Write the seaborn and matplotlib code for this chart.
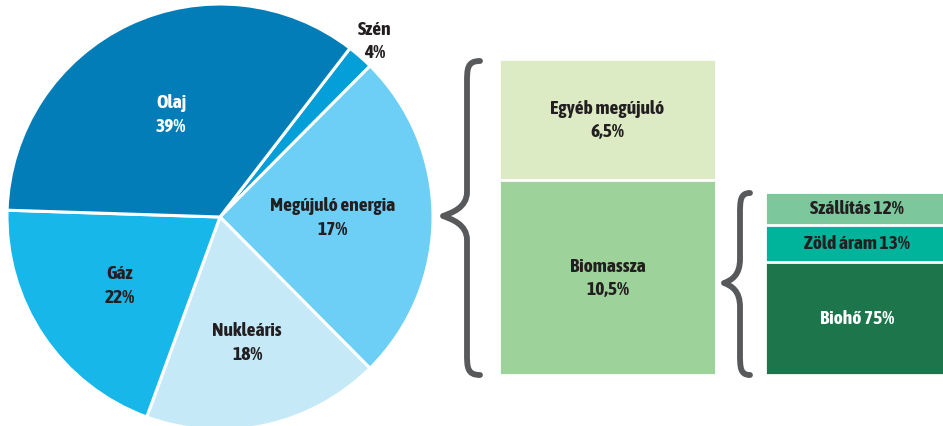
import numpy as np
import seaborn as sns
import matplotlib.pyplot as plt
from matplotlib.path import Path
from matplotlib.patches import PathPatch

# pie: energy mix, clockwise from the top right
pie_names = ["Szén", "Megújuló energia", "Nukleáris", "Gáz", "Olaj"]
pie_pct = ["4%", "17%", "18%", "22%", "39%"]
# slice sizes as they are drawn in the source (not proportional to the labels)
pie_drawn = [2.0, 25.1, 18.0, 19.9, 34.9]
pie_colors = ["#049fd9", "#6dcff5", "#c6e9f8", "#17b7ea", "#027db8"]

# renewables split (bottom to top)
ren_names = ["Biomassza", "Egyéb megújuló"]
ren_pct = ["10,5%", "6,5%"]
ren_values = [10.5, 6.5]
ren_colors = ["#9dd29b", "#dcebc4"]

# biomass split (bottom to top), heights as drawn
bio_names = ["Biohő", "Zöld áram", "Szállítás"]
bio_pct = ["75%", "13%", "12%"]
bio_drawn = [62, 20, 18]
bio_colors = ["#1c754b", "#00b49b", "#7cc89c"]

dark = "#231f20"
grey = "#58595b"

sns.set_theme(style="white")
plt.rcParams["font.family"] = ["Asap Condensed", "DejaVu Sans"]
plt.rcParams["font.stretch"] = "condensed"
font = dict(fontsize=14, fontweight="bold", linespacing=1.38)

W, H = 943, 427
fig = plt.figure(figsize=(W / 100, H / 100), dpi=100)

# ---- pie
ax = fig.add_axes([0, 0, 1, 1])
wedges, _ = ax.pie(pie_drawn, colors=pie_colors, startangle=52.4, counterclock=False,
                   wedgeprops=dict(edgecolor="white", linewidth=2.2))
R = 213.0
cx, cy = 220, H - 218
ax.set_xlim(-cx / R, (W - cx) / R)
ax.set_ylim(-cy / R, (H - cy) / R)
ax.set_aspect("equal")
ax.axis("off")

label_r = [1.1, 0.53, 0.6, 0.57, 0.535]
for w, name, pct, r in zip(wedges, pie_names, pie_pct, label_r):
    a = np.deg2rad((w.theta1 + w.theta2) / 2)
    col = "white" if name == "Olaj" else dark
    ax.text(r * np.cos(a), r * np.sin(a), name + "\n" + pct, ha="center", va="center",
            color=col, **font)


def stacked_box(ax, names, pct, values, colors, sep, fs):
    tops = np.cumsum(values)
    # tallest bar first, then the shorter ones over it
    for top, c in zip(tops[::-1], colors[::-1]):
        sns.barplot(x=["a"], y=[top], color=c, width=1, saturation=1,
                    edgecolor="white", linewidth=2, ax=ax)
    bottoms = tops - np.array(values)
    for n, p, b, v, c in zip(names, pct, bottoms, values, colors):
        col = "white" if c == "#1c754b" else dark
        ax.text(0, b + v / 2, n + sep + p, ha="center", va="center", color=col,
                fontsize=fs, fontweight="bold", linespacing=1.38)
    ax.set_xlim(-0.5, 0.5)
    ax.set_ylim(0, tops[-1])
    ax.axis("off")


ax_ren = fig.add_axes([499 / W, (H - 376) / H, 217 / W, 316 / H])
stacked_box(ax_ren, ren_names, ren_pct, ren_values, ren_colors, "\n", 14)

ax_bio = fig.add_axes([765 / W, (H - 376) / H, 184 / W, 183 / H])
stacked_box(ax_bio, bio_names, bio_pct, bio_drawn, bio_colors, " ", 14)

# ---- braces
ov = fig.add_axes([0, 0, 1, 1])
ov.set_xlim(0, W)
ov.set_ylim(H, 0)
ov.axis("off")
ov.patch.set_alpha(0)


def brace(x_end, x_mid, x_tip, y_top, y_tip, y_bot):
    verts = [(x_end, y_top),
             (x_mid, y_top), (x_mid, y_top + 8), (x_mid, y_top + 22),
             (x_mid, y_tip - 24),
             (x_mid, y_tip - 8), (x_tip + 8, y_tip - 3), (x_tip, y_tip),
             (x_tip + 8, y_tip + 3), (x_mid, y_tip + 8), (x_mid, y_tip + 24),
             (x_mid, y_bot - 22),
             (x_mid, y_bot - 8), (x_mid, y_bot), (x_end, y_bot)]
    codes = [Path.MOVETO] + [Path.CURVE4] * 3 + [Path.LINETO] + [Path.CURVE4] * 6 + \
            [Path.LINETO] + [Path.CURVE4] * 3
    ov.add_patch(PathPatch(Path(verts, codes), facecolor="none", edgecolor=grey,
                           linewidth=4.2, capstyle="round", joinstyle="round"))


brace(480, 467, 443, 62, 217, 376)
brace(750, 740, 724, 194, 284, 376)

fig.savefig("out.png", dpi=100)
